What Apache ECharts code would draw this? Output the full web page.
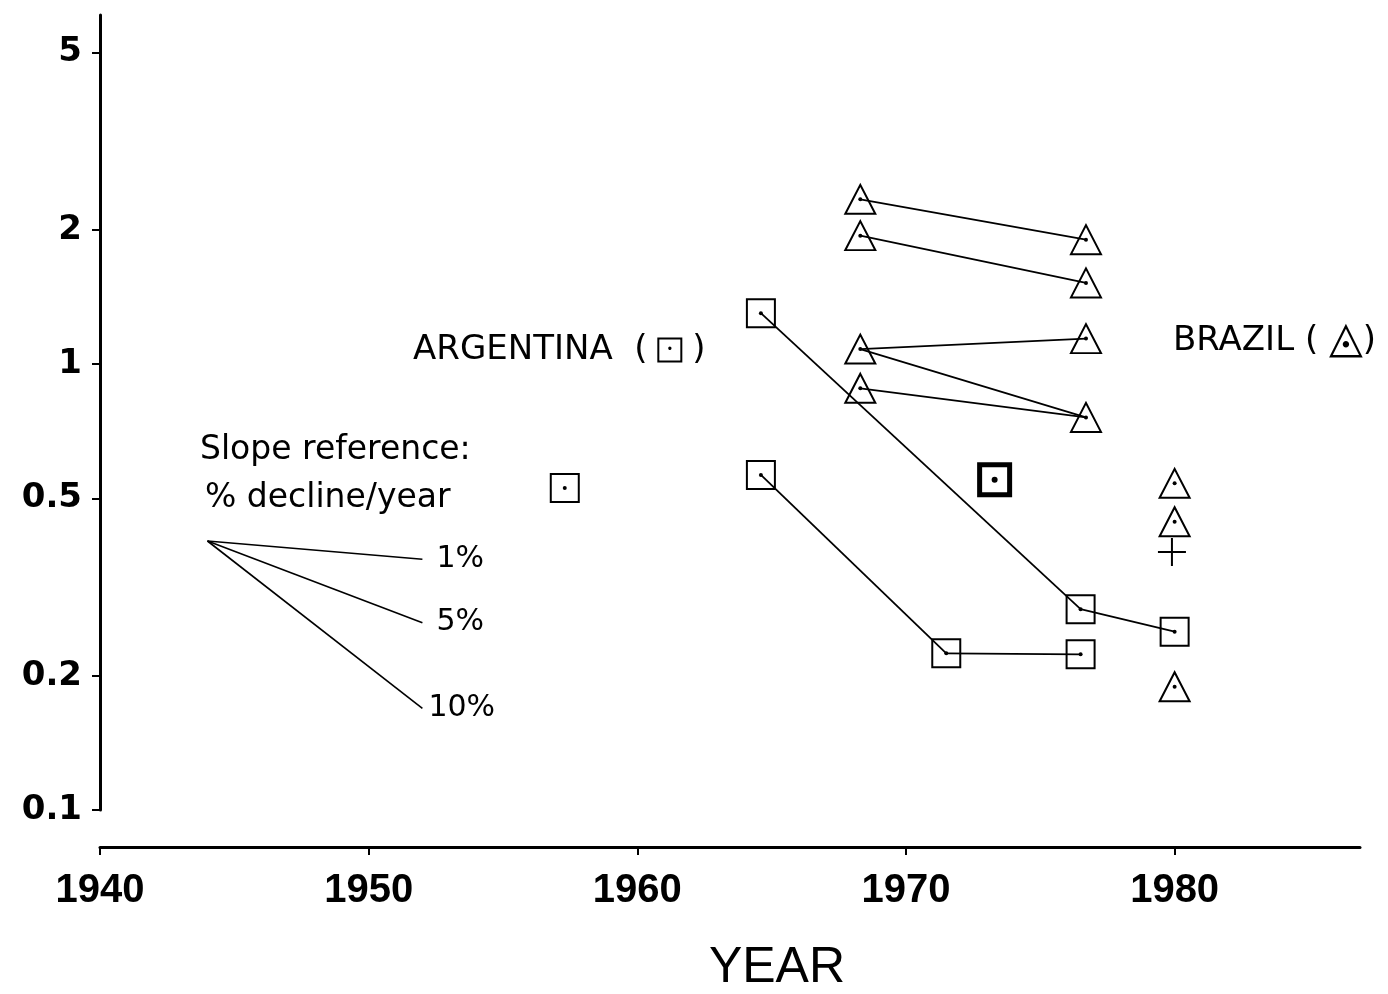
<!DOCTYPE html>
<html>
<head>
<meta charset="utf-8">
<title>Argentina / Brazil by year</title>
<script src="https://cdn.jsdelivr.net/npm/echarts@6.0.0/dist/echarts.min.js"></script>
<style>
  html, body { margin: 0; padding: 0; background: #fff; }
  #chart { width: 1388px; height: 994px; }
</style>
</head>
<body>
<div id="chart"></div>
<script>
// axis ticks
const yTicks = [0.1, 0.2, 0.5, 1, 2, 5]
const xTicks = [1940, 1950, 1960, 1970, 1980]

// Brazil: pairs read around 1968 and 1977
const brazilYearA = 1968.3
const brazilYearB = 1976.7
const brazilA = [2.34, 1.94, 1.08, 0.882]
const brazilB = [1.90, 1.52, 1.14, 0.759]
const brazilLinks = [[0, 0], [1, 1], [2, 2], [2, 3], [3, 3]]
const brazil1980Years = [1980, 1980, 1980]
const brazil1980 = [0.54, 0.443, 0.189]

// Argentina
const argYearsA = [1964.6, 1976.5, 1980]
const argValuesA = [1.30, 0.282, 0.251]
const argYearsB = [1964.6, 1971.5, 1976.5]
const argValuesB = [0.564, 0.2245, 0.2234]
const argSoloYears = [1957.3]
const argSoloValues = [0.527]
const argBoldYears = [1973.3]
const argBoldValues = [0.55]

// the "+" near 1980
const crossYears = [1979.9]
const crossValues = [0.379]

// slope reference fan
const slopeFromYear = 1944.0
const slopeFromValue = 0.401
const slopeToYear = 1952.0
const slopeToValues = [0.365, 0.263, 0.169]
const slopeNames = ['1%', '5%', '10%']

const lg = v => Math.log10(v)
const pt = (yr, v) => [yr, lg(v)]
const zip = (ys, vs) => ys.map((y, i) => pt(y, vs[i]))

let segs = brazilLinks.map(([a, b]) => ({
  coords: [pt(brazilYearA, brazilA[a]), pt(brazilYearB, brazilB[b])]
}))
;[zip(argYearsA, argValuesA), zip(argYearsB, argValuesB)].forEach(line => {
  for (let i = 1; i < line.length; i++) segs.push({ coords: [line[i - 1], line[i]] })
})

let triangles = brazilA.map(v => pt(brazilYearA, v))
  .concat(brazilB.map(v => pt(brazilYearB, v)))
  .concat(zip(brazil1980Years, brazil1980))
let squares = zip(argYearsA, argValuesA)
  .concat(zip(argYearsB, argValuesB))
  .concat(zip(argSoloYears, argSoloValues))
let bold = zip(argBoldYears, argBoldValues)

let black = '#000'
let hollow = { color: 'rgba(0,0,0,0)', borderColor: black, borderWidth: 2, opacity: 1 }
let txtFont = '"DejaVu Sans", "Liberation Sans", sans-serif'

let slopeSeries = slopeToValues.map((v, i) => ({
  type: 'line',
  name: slopeNames[i],
  data: [pt(slopeFromYear, slopeFromValue), pt(slopeToYear, v)],
  symbol: 'none',
  lineStyle: { color: black, width: 1.6 },
  endLabel: {
    show: true,
    formatter: '{a}',
    distance: i === 2 ? 6 : 14,
    color: black,
    fontFamily: txtFont,
    fontSize: 30
  },
  silent: true
}))

let option = {
  animation: false,
  backgroundColor: '#fff',
  grid: { left: 100, right: 28, top: 15, bottom: 184 },
  xAxis: {
    type: 'value',
    min: 1940,
    max: 1986.9,
    offset: 37,
    splitLine: { show: false },
    axisLine: { onZero: false, lineStyle: { color: black, width: 3 } },
    axisTick: { customValues: xTicks, length: 8, lineStyle: { color: black, width: 2 } },
    axisLabel: {
      customValues: xTicks,
      margin: 24,
      color: black,
      fontFamily: '"Liberation Sans", Arial, sans-serif',
      fontWeight: 'bold',
      fontSize: 40,
      formatter: v => String(v)
    }
  },
  yAxis: {
    type: 'value',
    min: -1,
    max: 0.7825,
    splitLine: { show: false },
    axisLine: { onZero: false, lineStyle: { color: black, width: 3 } },
    axisTick: { customValues: yTicks.map(lg), length: 8, lineStyle: { color: black, width: 2 } },
    axisLabel: {
      customValues: yTicks.map(lg),
      margin: 18,
      color: black,
      fontFamily: '"DejaVu Sans", sans-serif',
      fontWeight: 'bold',
      fontSize: 34,
      formatter: v => {
        let t = yTicks.find(t => Math.abs(lg(t) - v) < 1e-6)
        return t === undefined ? '' : String(t)
      }
    }
  },
  series: [
    ...slopeSeries,
    {
      type: 'lines',
      coordinateSystem: 'cartesian2d',
      data: segs,
      lineStyle: { color: black, width: 1.8, opacity: 1, curveness: 0 },
      silent: true
    },
    {
      type: 'scatter',
      data: triangles,
      symbol: 'triangle',
      symbolSize: [30, 29],
      itemStyle: hollow,
      silent: true
    },
    {
      type: 'scatter',
      data: squares,
      symbol: 'rect',
      symbolSize: 28,
      itemStyle: hollow,
      silent: true
    },
    {
      type: 'scatter',
      data: bold,
      symbol: 'rect',
      symbolSize: 30,
      itemStyle: { color: 'rgba(0,0,0,0)', borderColor: black, borderWidth: 5, opacity: 1 },
      silent: true
    },
    {
      type: 'scatter',
      data: zip(crossYears, crossValues),
      symbol: 'path://M13,0h2v13h13v2h-13v13h-2v-13h-13v-2h13z',
      symbolSize: 28,
      itemStyle: { color: black, opacity: 1 },
      silent: true
    },
    {
      type: 'scatter',
      data: triangles.concat(squares),
      symbol: 'circle',
      symbolSize: 4,
      itemStyle: { color: black, opacity: 1 },
      silent: true
    },
    {
      type: 'scatter',
      data: bold,
      symbol: 'circle',
      symbolSize: 6,
      itemStyle: { color: black, opacity: 1 },
      silent: true
    }
  ],
  graphic: [
    {
      type: 'text', x: 413, y: 350,
      style: {
        text: '{t|ARGENTINA  ( }{b|•}{t| )}',
        verticalAlign: 'middle',
        rich: {
          t: { fontFamily: txtFont, fontSize: 34, fill: black },
          b: { width: 23, height: 23, lineHeight: 23, align: 'center', borderColor: black, borderWidth: 2, fontSize: 12, fill: black }
        }
      }
    },
    {
      type: 'text', x: 1173, y: 341,
      style: {
        text: '{t|BRAZIL ( }{tri|\u25EC}{t|)}',
        verticalAlign: 'middle',
        rich: {
          t: { fontFamily: txtFont, fontSize: 34, fill: black },
          tri: { fontFamily: txtFont, fontSize: 44, fill: black }
        }
      }
    },
    {
      type: 'text', x: 200, y: 450,
      style: { text: 'Slope reference:', verticalAlign: 'middle', fontFamily: txtFont, fontSize: 33, fill: black }
    },
    {
      type: 'text', x: 205, y: 498,
      style: { text: '% decline/year', verticalAlign: 'middle', fontFamily: txtFont, fontSize: 33, fill: black }
    },
    {
      type: 'text', x: 777, y: 968,
      style: {
        text: 'YEAR', align: 'center', verticalAlign: 'middle',
        fontFamily: '"Liberation Sans", Arial, sans-serif', fontSize: 50, fill: black
      }
    }
  ]
}

let chart = echarts.init(document.getElementById('chart'))
chart.setOption(option)
window.addEventListener('resize', () => chart.resize())
</script>
</body>
</html>
